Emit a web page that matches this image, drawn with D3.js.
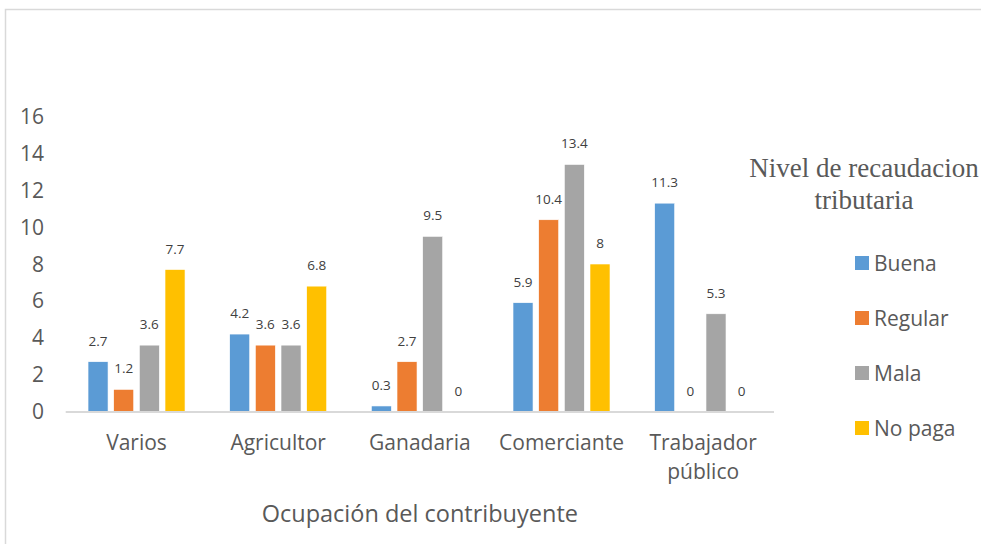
<!DOCTYPE html>
<html><head><meta charset="utf-8">
<script src="https://cdn.jsdelivr.net/npm/d3@7"></script>
<style>body{margin:0;background:#fff}svg{display:block}</style>
</head><body><svg id="c" width="981" height="544"></svg>
<script>
const categories = ["Varios","Agricultor","Ganadaria","Comerciante","Trabajador público"];
const seriesNames = ["Buena","Regular","Mala","No paga"];
const buena   = [2.7, 4.2, 0.3, 5.9, 11.3];
const regular = [1.2, 3.6, 2.7, 10.4, 0];
const mala    = [3.6, 3.6, 9.5, 13.4, 5.3];
const noPaga  = [7.7, 6.8, 0, 8, 0];
const yTicks  = [0,2,4,6,8,10,12,14,16];
const colors  = ["#5b9bd5","#ed7d31","#a5a5a5","#ffc000"];
const xTitle = "Ocupación del contribuyente";
const legendTitle = ["Nivel de recaudacion","tributaria"];

(function(){
const series = [buena, regular, mala, noPaga];
const svg = d3.select("#c");
const font = "'Open Sans', sans-serif";

svg.append("rect").attr("x",5.5).attr("y",9.5).attr("width",1100).attr("height",700)
  .attr("fill","#fff").attr("stroke","#d9d9d9").attr("stroke-width",1.5);

const pl = 65.7, pr = 774, pt = 116.5, pb = 411.5;
const x = d3.scaleBand().domain(categories).range([pl,pr]).paddingInner(0).paddingOuter(0);
const y = d3.scaleLinear().domain([0,16]).range([pb, pt]);
const inner = d3.scaleBand().domain(d3.range(4)).range([-48.5,48.5]).paddingInner(0.22);

svg.append("g").selectAll("text").data(yTicks).join("text")
  .attr("x",44).attr("y",d=>y(d)).attr("dy","0.36em").attr("text-anchor","end")
  .attr("font-family",font).attr("font-size",21).attr("fill","#595959").text(d=>d);

const g = svg.append("g");
series.forEach((vals,si)=>{
  g.selectAll(null).data(vals).join("rect")
    .attr("x",(d,i)=>x(categories[i])+x.bandwidth()/2+inner(si))
    .attr("y",d=>y(d)).attr("width",inner.bandwidth()).attr("height",d=>pb-y(d))
    .attr("fill",colors[si]).attr("stroke","#fff").attr("stroke-width",0.6);
  g.selectAll(null).data(vals).join("text")
    .attr("x",(d,i)=>x(categories[i])+x.bandwidth()/2+inner(si)+inner.bandwidth()/2)
    .attr("y",d=>y(d)-16).attr("text-anchor","middle")
    .attr("font-family",font).attr("font-size",13.5).attr("fill","#404040").text(d=>d);
});

svg.append("line").attr("x1",pl).attr("x2",pr).attr("y1",pb+0.5).attr("y2",pb+0.5)
  .attr("stroke","#d9d9d9").attr("stroke-width",2);

categories.forEach(c=>{
  const words = c === "Trabajador público" ? ["Trabajador","público"] : [c];
  const t = svg.append("text").attr("text-anchor","middle").attr("font-family",font)
    .attr("font-size",21).attr("fill","#595959");
  words.forEach((w,i)=>t.append("tspan").attr("x",x(c)+x.bandwidth()/2).attr("y",450+i*29).text(w));
});

svg.append("text").attr("x",(pl+pr)/2).attr("y",522).attr("text-anchor","middle")
  .attr("font-family",font).attr("font-size",23.5).attr("fill","#595959").text(xTitle);

legendTitle.forEach((l,i)=>svg.append("text").attr("x",864).attr("y",177+i*32).attr("text-anchor","middle")
  .attr("font-family","'Liberation Serif', 'Times New Roman', serif").attr("font-size",27)
  .attr("fill","#595959").text(l));

seriesNames.forEach((n,i)=>{
  const cy = 263 + i*55;
  svg.append("rect").attr("x",855).attr("y",cy-7).attr("width",14).attr("height",14).attr("fill",colors[i]);
  svg.append("text").attr("x",874).attr("y",cy).attr("dy","0.36em").attr("font-family",font)
    .attr("font-size",21).attr("fill","#595959").text(n);
});
})();
</script></body></html>
